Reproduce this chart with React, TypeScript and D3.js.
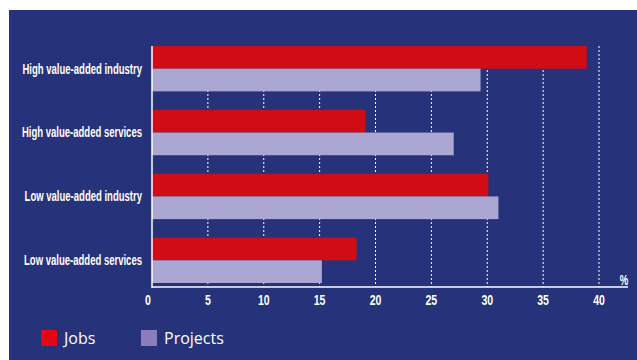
import React, { useEffect, useRef } from "react";
import * as d3 from "d3";

const categories = [
  "High value-added industry",
  "High value-added services",
  "Low value-added industry",
  "Low value-added services",
];
const jobs = [38.9, 19.1, 30.1, 18.3];
const projects = [29.4, 27.0, 31.0, 15.2];
const tickValues = [0, 5, 10, 15, 20, 25, 30, 35, 40];
const seriesNames = ["Jobs", "Projects"];

const W = 637;
const H = 360;
const NAVY = "#26327A";
const RED = "#D20C14";
const LAV = "#ABA7D2";
const LEG_RED = "#E30613";
const LEG_LAV = "#8A7DBA";
const CONDENSED = "'Liberation Sans', Arial, sans-serif";

export default function App() {
  const ref = useRef<SVGSVGElement | null>(null);

  useEffect(() => {
    const svg = d3.select(ref.current);
    svg.selectAll("*").remove();

    svg.append("rect").attr("x", 9).attr("y", 10).attr("width", W - 9).attr("height", H - 10).attr("fill", NAVY);

    const x = d3.scaleLinear().domain([0, 40]).range([152, 599]);
    const y = d3.scaleBand<string>().domain(categories).range([46, 283]).paddingInner(0.29).paddingOuter(0);
    const axisY = 287;

    // grid
    svg.append("g")
      .selectAll("line")
      .data(tickValues.filter((t) => t > 0))
      .join("line")
      .attr("x1", (d) => x(d))
      .attr("x2", (d) => x(d))
      .attr("y1", 46)
      .attr("y2", axisY)
      .attr("stroke", "#fff")
      .attr("stroke-width", 1)
      .attr("stroke-dasharray", "2,2");

    const bh = y.bandwidth() / 2;
    const g = svg.append("g");
    g.selectAll("rect.j")
      .data(categories)
      .join("rect")
      .attr("class", "j")
      .attr("x", x(0))
      .attr("y", (d) => y(d)!)
      .attr("width", (_, i) => x(jobs[i]) - x(0))
      .attr("height", bh)
      .attr("fill", RED);
    g.selectAll("rect.p")
      .data(categories)
      .join("rect")
      .attr("class", "p")
      .attr("x", x(0))
      .attr("y", (d) => y(d)! + bh)
      .attr("width", (_, i) => x(projects[i]) - x(0))
      .attr("height", bh)
      .attr("fill", LAV);

    // axes lines
    svg.append("line").attr("x1", x(0)).attr("x2", x(0)).attr("y1", 46).attr("y2", axisY + 1)
      .attr("stroke", "#fff").attr("stroke-width", 1.5);
    svg.append("line").attr("x1", x(0)).attr("x2", 628).attr("y1", axisY).attr("y2", axisY)
      .attr("stroke", "#fff").attr("stroke-width", 1.5);

    // tick labels
    svg.append("g")
      .selectAll("text")
      .data(tickValues)
      .join("text")
      .attr("transform", (d) => `translate(${x(d) - (d === 0 ? 4 : 0)},304.5) scale(0.68,1)`)
      .attr("text-anchor", "middle")
      .attr("fill", "#fff")
      .attr("font-family", CONDENSED)
      .attr("font-weight", "bold")
      .attr("font-size", 15.5)
      .text((d) => String(d));

    svg.append("text").attr("transform", "translate(624,285) scale(0.68,1)").attr("text-anchor", "middle")
      .attr("fill", "#fff").attr("font-family", CONDENSED).attr("font-weight", "bold").attr("font-size", 14)
      .text("%");

    // category labels
    svg.append("g")
      .selectAll("text")
      .data(categories)
      .join("text")
      .attr("transform", (d) => `translate(142,${y(d)! + bh}) scale(0.68,1)`)
      .attr("dy", "0.35em")
      .attr("text-anchor", "end")
      .attr("fill", "#fff")
      .attr("font-family", CONDENSED)
      .attr("font-weight", "bold")
      .attr("font-size", 14)
      .text((d) => d);

    // legend
    const legX = [41, 141];
    const legC = [LEG_RED, LEG_LAV];
    const lg = svg.append("g");
    seriesNames.forEach((n, i) => {
      lg.append("rect").attr("x", legX[i]).attr("y", 330).attr("width", 16).attr("height", 16).attr("fill", legC[i]);
      lg.append("text").attr("x", legX[i] + 23).attr("y", 338).attr("dy", "0.35em")
        .attr("fill", "#fff").attr("font-family", "'Open Sans', sans-serif").attr("font-size", 16)
        .text(n);
    });
  }, []);

  return (
    <svg ref={ref} width={W} height={H} style={{ position: "absolute", left: 0, top: 0, display: "block" }} />
  );
}
